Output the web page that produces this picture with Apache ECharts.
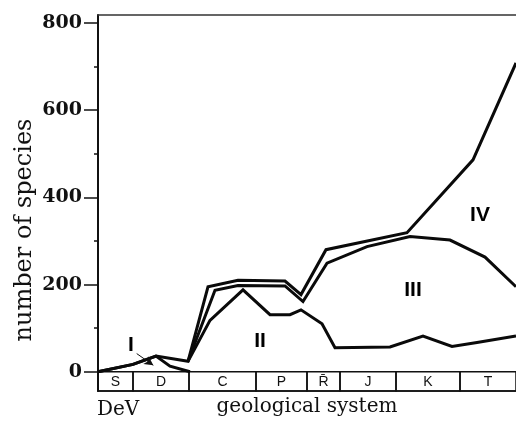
<!DOCTYPE html>
<html>
<head>
<meta charset="utf-8">
<script src="https://cdn.jsdelivr.net/npm/echarts@6/dist/echarts.min.js"></script>
<style>html,body{margin:0;padding:0;background:#fff;}#c{width:516px;height:422px;}</style>
</head>
<body>
<div id="c"></div>
<script>
// x is a relative geological-time position (0 = start of Silurian, 418 = right edge)
const totalIV = [[0,0],[35,17],[58,36],[90,24],[110,195],[140,210],[187,208],[203,177],[228,280],[309,319],[375,486],[418,708]];
const topIII = [[90,24],[117,187],[140,198],[187,197],[205,161],[229,249],[269,287],[312,310],[352,302],[387,263],[418,195]];
const topII = [[90,24],[112,118],[145,188],[172,131],[192,131],[203,142],[224,110],[237,55],[292,57],[325,82],[354,58],[379,67],[418,82]];
const groupI = [[0,0],[35,17],[58,36],[72,13],[92,0]];

const periodNames = ['S','D','C','P','R\u0304','J','K','T'];
const periodStart = [0,35,91,158,209,242,298,362];
const periodEnd = [35,91,158,209,242,298,362,418];

const groupLabels = [[33,62,'I'],[162,70,'II'],[315,187,'III'],[382,358,'IV']];
const arrowFrom = [38.7,41.8];
const arrowTo = [55.3,15];

const yMajor = [0,200,400,600,800];
const yMinor = [100,300,500,700];

const Y_MIN = -44, Y_MAX = 818, X_MIN = 0, X_MAX = 418;

const chart = echarts.init(document.getElementById('c'), null, {renderer:'canvas'});
const lineStyle = {color:'#0a0a0a', width:3, join:'miter'};
function lineSeries(d){
  return {type:'line', data:d, showSymbol:false, symbol:'none', lineStyle:lineStyle, silent:true, animation:false, clip:true};
}
const serifFont = 'DejaVu Serif';
chart.setOption({
  animation:false,
  backgroundColor:'#fff',
  grid:{left:98, right:0, top:15, bottom:30, containLabel:false},
  xAxis:[
    {type:'value', min:X_MIN, max:X_MAX, position:'bottom',
     axisLine:{show:true, onZero:false, lineStyle:{color:'#111', width:1.5}},
     axisTick:{show:false}, axisLabel:{show:false}, splitLine:{show:false},
     name:'geological system', nameLocation:'middle', nameGap:6,
     nameTextStyle:{fontFamily:serifFont, fontSize:20, color:'#111', verticalAlign:'top'}},
    {type:'value', min:X_MIN, max:X_MAX, position:'top',
     axisLine:{show:true, onZero:false, lineStyle:{color:'#333', width:1.5}},
     axisTick:{show:false}, axisLabel:{show:false}, splitLine:{show:false}}
  ],
  yAxis:[
    {type:'value', min:Y_MIN, max:Y_MAX,
     axisLine:{show:true, onZero:false, lineStyle:{color:'#111', width:2}},
     axisTick:{show:true, length:14, customValues:yMajor, lineStyle:{color:'#111', width:1.5}},
     axisLabel:{show:true, customValues:yMajor, margin:16, fontFamily:serifFont, fontWeight:'bold', fontSize:19, color:'#111'},
     splitLine:{show:false}},
    {type:'value', min:Y_MIN, max:Y_MAX, position:'left', offset:0,
     axisLine:{show:false},
     axisTick:{show:true, length:4, customValues:yMinor, lineStyle:{color:'#111', width:1.5}},
     axisLabel:{show:false}, splitLine:{show:false}}
  ],
  graphic:[
    {type:'text', x:25, y:230, rotation:Math.PI/2, style:{text:'number of species', font:'24px "DejaVu Serif"', fill:'#111', align:'center', verticalAlign:'middle'}},
    {type:'text', x:97, y:410, style:{text:'DeV', font:'20px "DejaVu Serif"', fill:'#111', align:'left', verticalAlign:'middle'}}
  ],
  series:[
    lineSeries(totalIV),
    lineSeries(topIII),
    lineSeries(topII),
    lineSeries(groupI),
    {type:'custom', silent:true, clip:false,
     data: periodNames.map((n,i)=>[periodStart[i], periodEnd[i], i]),
     encode:{x:[0,1]},
     renderItem:function(params, api){
       const i = params.dataIndex;
       const p0 = api.coord([periodStart[i], 0]);
       const p1 = api.coord([periodEnd[i], Y_MIN]);
       return {type:'group', children:[
         {type:'rect', shape:{x:p0[0], y:p0[1], width:p1[0]-p0[0], height:p1[1]-p0[1]},
          style:{fill:'none', stroke:'#111', lineWidth:1.5}},
         {type:'text', x:(p0[0]+p1[0])/2, y:(p0[1]+p1[1])/2+1,
          style:{text:periodNames[i], font:'14px "Liberation Sans"', fill:'#111', align:'center', verticalAlign:'middle'}}
       ]};
     }},
    {type:'scatter', symbolSize:0, silent:true, data:groupLabels,
     itemStyle:{opacity:1},
     label:{show:true, position:'inside', formatter:p=>p.value[2], fontFamily:'Liberation Sans', fontWeight:'bold', fontSize:21, color:'#000', opacity:1, textBorderWidth:0},
     markLine:{silent:true, symbol:['none','arrow'], symbolSize:[7,9],
       lineStyle:{color:'#111', width:1, type:'solid'}, label:{show:false},
       data:[[{coord:arrowFrom},{coord:arrowTo}]]}}
  ]
});
</script>
</body>
</html>
